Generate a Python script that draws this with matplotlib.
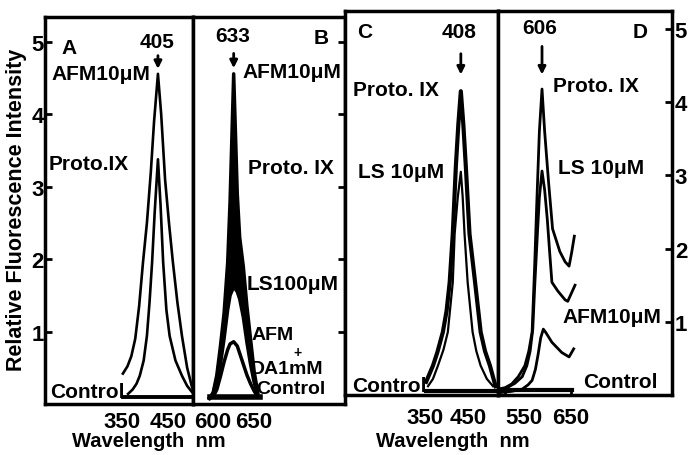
import matplotlib
matplotlib.use('Agg')
import matplotlib.pyplot as plt

plt.rcParams['font.family'] = ['Liberation Sans', 'DejaVu Sans']
plt.rcParams['font.weight'] = 'bold'

W, H = 691, 456

# panel A: excitation, AFM 10uM / Proto IX
a_nm_afm = [351, 358, 364, 370, 376, 382, 388, 394, 399, 405, 410, 416, 422, 428, 435, 442, 450, 457, 462]
a_afm = [0.42, 0.52, 0.66, 0.9, 1.35, 1.96, 2.5, 3.2, 3.9, 4.56, 4.0, 3.1, 2.5, 1.96, 1.4, 0.94, 0.5, 0.25, 0.12]
a_nm_proto = [359, 366, 372, 377, 383, 388, 392, 396, 400, 405, 409, 413, 418, 423, 432, 442, 450, 457]
a_proto = [0.14, 0.2, 0.28, 0.39, 0.6, 0.94, 1.4, 1.96, 2.65, 3.38, 2.75, 1.96, 1.3, 0.94, 0.6, 0.39, 0.25, 0.17]
a_nm_ctrl = [351, 462]
a_ctrl = [0.09, 0.09]

# panel B: emission at 633
b_nm = [613, 616, 619, 622, 625, 628, 630, 633, 636, 638, 641, 644, 647, 650, 653]
b_afm = [0.08, 0.16, 0.4, 0.8, 1.25, 1.95, 2.8, 4.56, 2.9, 2.3, 1.9, 1.35, 0.9, 0.45, 0.16]
b_proto = [0.08, 0.15, 0.35, 0.7, 1.1, 1.7, 2.4, 3.3, 2.4, 1.9, 1.5, 1.05, 0.7, 0.35, 0.12]
b_ls100 = [0.08, 0.12, 0.3, 0.55, 0.9, 1.3, 1.5, 1.62, 1.55, 1.45, 1.2, 0.85, 0.55, 0.3, 0.12]
b_afm_da = [0.08, 0.1, 0.2, 0.38, 0.58, 0.75, 0.83, 0.86, 0.8, 0.7, 0.55, 0.4, 0.28, 0.18, 0.1]
b_nm_ctrl = [613, 655]
b_ctrl = [0.09, 0.09]

# panel C: excitation, Proto IX / LS 10uM
c_nm_proto = [352, 363, 370, 379, 385, 390, 395, 400, 404, 408, 412, 416, 422, 431, 440, 447, 455, 464]
c_proto = [0.18, 0.4, 0.58, 0.86, 1.15, 1.54, 2.2, 3.13, 3.7, 4.15, 3.7, 3.13, 2.2, 1.54, 0.86, 0.6, 0.4, 0.12]
c_nm_ls = [355, 363, 371, 380, 387, 395, 398, 403, 408, 411, 414, 419, 427, 433, 440, 450, 460]
c_ls = [0.12, 0.22, 0.4, 0.62, 0.86, 1.54, 2.2, 2.7, 3.05, 2.7, 2.2, 1.54, 0.86, 0.6, 0.4, 0.22, 0.12]
c_nm_ctrl = [352, 468]
c_ctrl = [0.06, 0.06]

# panel D: emission at 606
d_nm_proto = [539, 550, 560, 570, 580, 586, 591, 595, 598, 602, 606, 610, 616, 622, 633, 641, 647, 651, 655]
d_proto = [0.08, 0.1, 0.15, 0.25, 0.4, 0.6, 0.86, 1.8, 2.6, 3.6, 4.18, 3.6, 2.9, 2.27, 1.96, 1.82, 1.76, 1.95, 2.17]
d_nm_ls = [539, 553, 565, 576, 583, 588, 592, 595, 599, 602, 606, 610, 614, 618, 621, 630, 641, 645, 650, 656]
d_ls = [0.05, 0.1, 0.16, 0.25, 0.4, 0.6, 0.9, 1.5, 2.2, 2.7, 3.06, 2.8, 2.4, 1.9, 1.54, 1.42, 1.3, 1.28, 1.38, 1.5]
d_nm_afm = [539, 560, 576, 585, 591, 596, 600, 604, 608, 612, 621, 636, 647, 654]
d_afm = [0.03, 0.05, 0.08, 0.14, 0.2, 0.35, 0.55, 0.78, 0.9, 0.85, 0.72, 0.58, 0.52, 0.63]
d_nm_ctrl = [539, 652]
d_ctrl = [0.07, 0.07]

y_ticks = [1, 2, 3, 4, 5]


def rect(x0, x1, ytop, ybot):
    return [x0 / W, 1 - ybot / H, (x1 - x0) / W, (ybot - ytop) / H]


def ftext(x, y, s, size=15, ha='left', **kw):
    fig.text(x / W, 1 - y / H, s, fontsize=size, ha=ha, va='center',
             fontweight='bold', **kw)


fig = plt.figure(figsize=(6.91, 4.56), dpi=100)
axA = fig.add_axes(rect(45, 193, 18, 405))
axB = fig.add_axes(rect(193, 345, 18, 405))
axC = fig.add_axes(rect(345, 498, 12, 396))
axD = fig.add_axes(rect(498, 672, 12, 396))

axA.set_xlim(231, 459)
axB.set_xlim(599.2, 725.5)
axC.set_xlim(221, 468)
axD.set_xlim(539.3, 803)
for ax in (axA, axB):
    ax.set_ylim(0, 5.345)
for ax in (axC, axD):
    ax.set_ylim(0, 5.246)

for ax in (axA, axB, axC, axD):
    for sp in ax.spines.values():
        sp.set_linewidth(2.5)
    ax.set_yticks(y_ticks)
    ax.tick_params(axis='both', labelsize=16, width=2)
    ax.tick_params(axis='x', length=0)
    ax.tick_params(axis='y', left=False, right=False, labelleft=False, labelright=False)

axA.tick_params(axis='y', left=True, labelleft=True, direction='in', length=5, pad=1)
axB.tick_params(axis='y', right=True, direction='in', length=5)
axD.tick_params(axis='y', right=True, labelright=True, direction='in', length=5, pad=2)

axA.set_xticks([350, 450])
axB.set_xticks([600, 650])
axC.set_xticks([350, 450])
axD.set_xticks([550, 650])
axD.tick_params(axis='x', length=5, direction='in')
for ax in (axA, axB):
    ax.tick_params(axis='x', pad=5)
for ax in (axC, axD):
    ax.tick_params(axis='x', pad=9)
axA.get_xticklabels()[1].set_ha('right')
axB.get_xticklabels()[0].set_ha('left')
axC.get_xticklabels()[1].set_ha('right')
axD.get_xticklabels()[0].set_ha('left')
for ax in (axA, axB, axC, axD):
    for lab in ax.get_xticklabels() + ax.get_yticklabels():
        lab.set_fontweight('bold')

# A
axA.plot(a_nm_afm, a_afm, color='k', lw=1.9)
axA.plot(a_nm_proto, a_proto, color='k', lw=1.9)
axA.plot(a_nm_ctrl, a_ctrl, color='k', lw=2.8)
axA.annotate('', xy=(405, 4.59), xytext=(405, 4.85),
             arrowprops=dict(arrowstyle='-|>', color='k', lw=2, mutation_scale=11))

# B
axB.fill_between(b_nm, b_ls100, b_afm, color='k', lw=0)
axB.plot(b_nm, b_afm, color='k', lw=2.5)
axB.plot(b_nm, b_proto, color='k', lw=2.5)
axB.plot(b_nm, b_ls100, color='k', lw=2.5)
axB.plot(b_nm, b_afm_da, color='k', lw=2.5)
axB.plot(b_nm_ctrl, b_ctrl, color='k', lw=4)
axB.annotate('', xy=(633, 4.6), xytext=(633, 4.88),
             arrowprops=dict(arrowstyle='-|>', color='k', lw=2, mutation_scale=11))

# C
axC.plot(c_nm_proto, c_proto, color='k', lw=3)
axC.plot(c_nm_ls, c_ls, color='k', lw=1.6)
axC.plot(c_nm_ctrl, c_ctrl, color='k', lw=3)
axC.annotate('', xy=(408, 4.34), xytext=(408, 4.7),
             arrowprops=dict(arrowstyle='-|>', color='k', lw=2, mutation_scale=11))

# D
axD.plot(d_nm_proto, d_proto, color='k', lw=2)
axD.plot(d_nm_ls, d_ls, color='k', lw=2)
axD.plot(d_nm_afm, d_afm, color='k', lw=2)
axD.plot(d_nm_ctrl, d_ctrl, color='k', lw=3)
axD.annotate('', xy=(606, 4.34), xytext=(606, 4.8),
             arrowprops=dict(arrowstyle='-|>', color='k', lw=2, mutation_scale=11))

# panel letters and peak wavelengths
ftext(69, 48, 'A', ha='center')
ftext(157, 42, '405', ha='center')
ftext(233, 37, '633', ha='center')
ftext(321, 38, 'B', ha='center')
ftext(365, 33, 'C', ha='center')
ftext(459, 32, '408', ha='center')
ftext(540, 28, '606', ha='center')
ftext(640, 33, 'D', ha='center')

# curve labels
ftext(51, 75, 'AFM10μM')
ftext(49, 165, 'Proto.IX')
ftext(50, 393, 'Control')
ftext(242, 72, 'AFM10μM')
ftext(248, 168, 'Proto. IX')
ftext(247, 285, 'LS100μM')
ftext(252, 336, 'AFM', size=14)
ftext(297, 353, '+', size=10, ha='center')
ftext(251, 370, 'DA1mM', size=14)
ftext(256, 389, 'Control', size=14)
ftext(353, 90, 'Proto. IX')
ftext(358, 173, 'LS 10μM')
ftext(352, 387, 'Control')
ftext(553, 87, 'Proto. IX')
ftext(558, 168, 'LS 10μM')
ftext(562, 318, 'AFM10μM')
ftext(583, 383, 'Control')

ftext(72, 442, 'Wavelength  nm', size=14.5)
ftext(376, 442, 'Wavelength  nm', size=14.5)
fig.text(17 / W, 1 - 210 / H, 'Relative Fluorescence Intensity', rotation=90,
         fontsize=15.5, fontweight='bold', ha='center', va='center')

fig.savefig('out.png', dpi=100)
